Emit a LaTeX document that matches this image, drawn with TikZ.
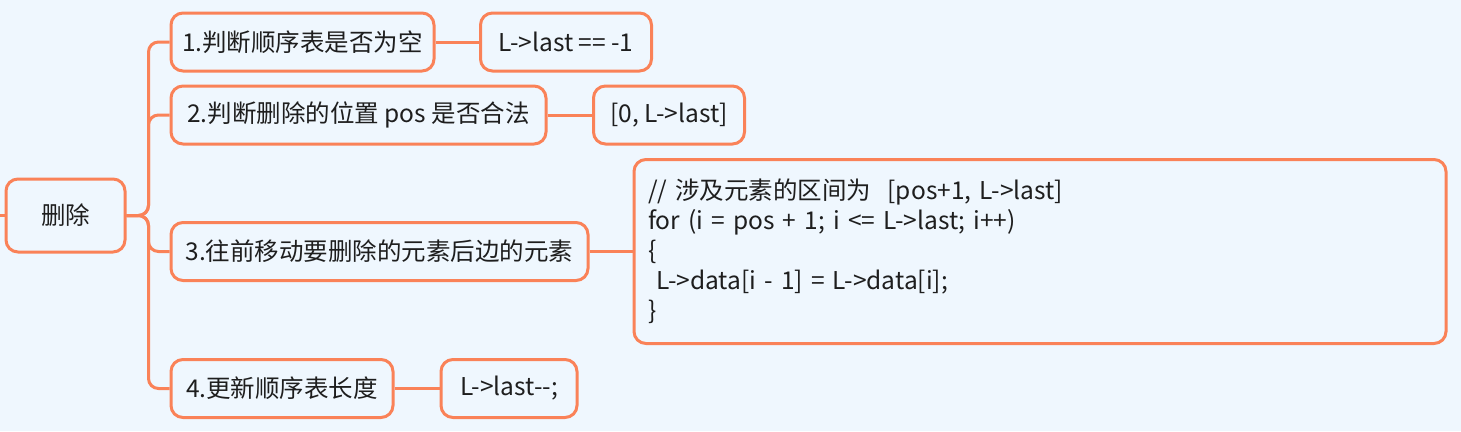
\documentclass[tikz,border=0pt]{standalone}
\usepackage{fontspec}
\setmainfont{Noto Sans CJK SC}[Ligatures=TeXOff]
\usetikzlibrary{positioning}
\definecolor{mapline}{RGB}{250,130,88}
\definecolor{mapback}{RGB}{239,247,254}
\definecolor{maptext}{RGB}{30,30,30}

\begin{document}
\begin{tikzpicture}[x=1pt,y=-1pt,line width=3pt]
    \tikzstyle{topic}=[draw=mapline,fill=mapback,rounded corners=12pt,text=maptext,
        font=\fontsize{24.5}{30}\selectfont,inner sep=0pt]
    \tikzstyle{sub topic}=[topic,minimum height=58pt]
    \tikzstyle{link}=[draw=mapline,rounded corners=10pt]

    % background and page size
    \fill[mapback] (0,0) rectangle (1461,431);
    \useasboundingbox (0,0) rectangle (1461,431);

    % central topic
    \node[topic,minimum width=119pt,minimum height=73pt] (root) at (65.5,215.5) {删除};
    \coordinate (in) at (0,215.5);
    \draw[link] (in) -- (root.west);

    % the four steps
    \foreach \name / \x / \y / \w / \txt in {
        1/302.5/42/263/{1.判断顺序表是否为空},
        2/358.5/115/375/{2.判断删除的位置 pos 是否合法},
        3/379.5/251.5/417/{3.往前移动要删除的元素后边的元素},
        4/282/388.5/222/{4.更新顺序表长度}}
        \node[sub topic,minimum width=\w pt] (S-\name) at (\x,\y) {\txt};

    % Connect the central topic with every step
    \foreach \dest in {1,...,4}
        \draw[link] (root.east) -- ++(22,0) |- (S-\dest.west);

    % details of each step
    \node[sub topic,minimum width=171pt] (D-1) at (566,42) {L->last == -1};
    \node[sub topic,minimum width=151pt] (D-2) at (669,115) {[0, L->last]};
    \node[topic,minimum width=812pt,minimum height=184pt,text width=784pt,align=left]
        (D-3) at (1040,251.5) {// 涉及元素的区间为~~[pos+1, L->last]\\
        for (i = pos + 1; i <= L->last; i++)\\
        \{\\
        ~L->data[i - 1] = L->data[i];\\
        \}};
    \node[sub topic,minimum width=136pt] (D-4) at (509,388.5) {L->last--;};

    \foreach \source in {1,...,4}
        \draw[link] (S-\source.east) -- (D-\source.west);
\end{tikzpicture}
\end{document}
